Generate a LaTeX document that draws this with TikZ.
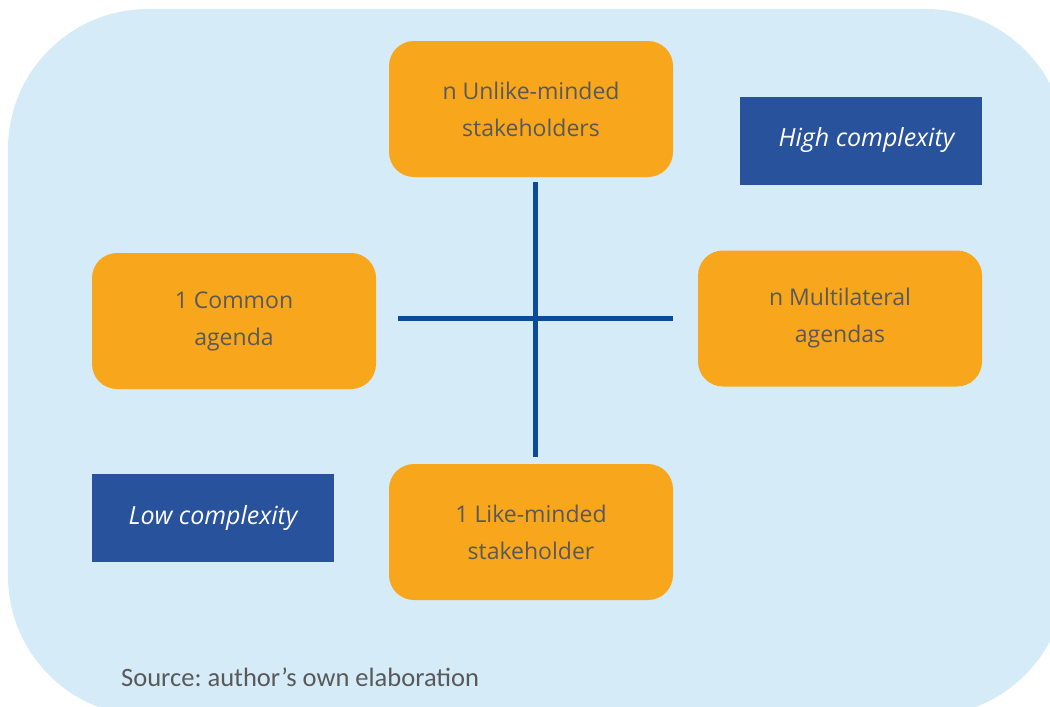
\documentclass[tikz,border=0pt]{standalone}
\usepackage{fontspec}
\setmainfont{Open Sans}
\newfontfamily\srcfont{Carlito}
\definecolor{bgblue}{HTML}{D5EBF7}
\definecolor{boxorange}{HTML}{F8A61C}
\definecolor{darkbox}{HTML}{29529D}
\definecolor{crossblue}{HTML}{0B4A96}
\definecolor{txtgray}{HTML}{595959}
\tikzset{
  ybox/.style={rectangle, rounded corners=25pt, fill=boxorange, text=txtgray,
    minimum width=284pt, minimum height=136pt, align=center, inner sep=0pt,
    font=\fontsize{23}{37}\selectfont},
  cbox/.style={rectangle, fill=darkbox, text=white, minimum width=242pt,
    minimum height=88pt, inner sep=0pt, font=\fontsize{25}{28}\selectfont\itshape},
  crossline/.style={draw=crossblue, line width=5pt}
}
\begin{document}
\frenchspacing
\begin{tikzpicture}[x=1pt,y=-1pt]
\useasboundingbox (0,0) rectangle (1050,707);
\clip (0,0) rectangle (1050,707);
\fill[bgblue, rounded corners=140pt] (8,9) rectangle (1066,716);
\node[ybox] (top) at (531,109) {n Unlike-minded\\stakeholders};
\node[ybox] (left) at (234,321) {1 Common\\agenda};
\node[ybox] (right) at (840,318.5) {n Multilateral\\agendas};
\node[ybox] (bottom) at (531,532) {1 Like-minded\\stakeholder};
\node[cbox] (high) at (861,140.5) {\hspace*{11pt}High complexity};
\node[cbox] (low) at (213,518) {Low complexity};
\coordinate (vtop) at (535,182);
\coordinate (vbot) at (535,457);
\coordinate (hleft) at (398,318);
\coordinate (hright) at (673,318);
\draw[crossline] (vtop) -- (vbot);
\draw[crossline] (hleft) -- (hright);
\node[anchor=base west, text=txtgray, inner sep=0pt, font=\srcfont\fontsize{26.5}{30}\selectfont] (src) at (121,686) {Source: author’s own elaboration};
\end{tikzpicture}
\end{document}
